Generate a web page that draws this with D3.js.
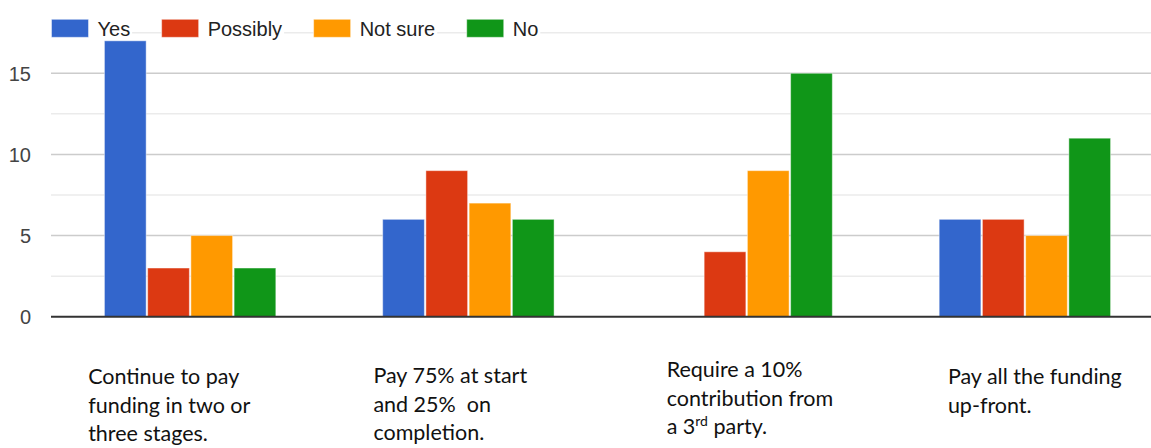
<!DOCTYPE html>
<html>
<head>
<meta charset="utf-8">
<script src="https://cdn.jsdelivr.net/npm/d3@7"></script>
<style>
  html, body { margin: 0; padding: 0; background: #fff; }
  svg { display: block; }
  .cat text { white-space: pre; }
</style>
</head>
<body>
<svg id="chart" width="1151" height="448"></svg>
<script>
// ---- data ----
const categories = [
  "Continue to pay funding in two or three stages.",
  "Pay 75% at start and 25%  on completion.",
  "Require a 10% contribution from a 3rd party.",
  "Pay all the funding up-front."
];
const seriesNames = ["Yes", "Possibly", "Not sure", "No"];
const yesValues      = [17, 6, 0, 6];
const possiblyValues = [3, 9, 4, 6];
const notSureValues  = [5, 7, 9, 5];
const noValues       = [3, 6, 15, 11];
const majorTicks = [0, 5, 10, 15];
const minorTicks = [2.5, 7.5, 12.5, 17.5];
// category label text broken into lines (as in the reference text boxes)
const categoryLines = [
  ["Continue to pay", "funding in two or", "three stages."],
  ["Pay 75% at start", "and 25%  on", "completion."],
  ["Require a 10%", "contribution from", "a 3|rd| party."],
  ["Pay all the funding", "up-front."]
];

// ---- layout (not data) ----
const colors = ["#3366cc", "#dc3912", "#ff9900", "#109618"];
const labelLayout = [ {dx: -102, y: 384}, {dx: -95, y: 383}, {dx: -80, y: 377}, {dx: -77, y: 384} ];

const svg = d3.select("#chart");
const seriesValues = [yesValues, possiblyValues, notSureValues, noValues];

const x0 = d3.scaleBand().domain(categories).range([51, 1164]).paddingInner(0.384).paddingOuter(0.192);
const x1 = d3.scaleBand().domain(seriesNames).range([0, x0.bandwidth()]).paddingInner(0.035);
const y = d3.scaleLinear().domain([0, 17.5]).range([316.7, 32.7]);

// gridlines
svg.append("g").selectAll("line").data(minorTicks).join("line")
  .attr("x1", 51).attr("x2", 1164)
  .attr("y1", d => y(d)).attr("y2", d => y(d))
  .attr("stroke", "#ebebeb").attr("stroke-width", 1.5);
svg.append("g").selectAll("line").data(majorTicks.filter(d => d > 0)).join("line")
  .attr("x1", 51).attr("x2", 1164)
  .attr("y1", d => y(d)).attr("y2", d => y(d))
  .attr("stroke", "#cccccc").attr("stroke-width", 1.5);

// y axis labels via d3 axis
const yAxis = d3.axisLeft(y).tickValues(majorTicks).tickSize(0).tickPadding(0).tickFormat(d3.format("d"));
const ya = svg.append("g").attr("transform", "translate(31,0)").call(yAxis);
ya.select(".domain").remove();
ya.selectAll("text")
  .attr("font-family", "Liberation Sans, Arial, sans-serif")
  .attr("font-size", 20).attr("fill", "#444").attr("dy", "0.36em");

// bars
const groups = svg.append("g").selectAll("g").data(categories).join("g")
  .attr("transform", d => `translate(${x0(d)},0)`);
groups.selectAll("rect")
  .data((c, ci) => seriesNames.map((s, si) => ({s, si, v: seriesValues[si][ci]})))
  .join("rect")
  .filter(d => d.v > 0)
  .attr("x", d => x1(d.s))
  .attr("width", x1.bandwidth())
  .attr("y", d => y(d.v))
  .attr("height", d => y(0) - y(d.v))
  .attr("fill", d => colors[d.si])
  .attr("stroke", "#ffffff").attr("stroke-opacity", 0.45).attr("stroke-width", 1);

// baseline
svg.append("line").attr("x1", 51).attr("x2", 1164)
  .attr("y1", y(0)).attr("y2", y(0))
  .attr("stroke", "#333333").attr("stroke-width", 2);

// legend
const legend = svg.append("g");
let lx = 51.5;
seriesNames.forEach((name, i) => {
  const g = legend.append("g");
  const bg = g.append("rect").attr("fill", "#fff");
  g.append("rect").attr("x", lx).attr("y", 19.3).attr("width", 37).attr("height", 18)
    .attr("fill", colors[i]).attr("stroke", "#fff").attr("stroke-opacity", 0.45);
  const t = g.append("text").attr("x", lx + 46).attr("y", 36)
    .attr("font-family", "Liberation Sans, Arial, sans-serif").attr("font-size", 20)
    .attr("fill", "#222").text(name);
  const w = t.node().getComputedTextLength();
  bg.attr("x", lx).attr("y", 19).attr("width", 46 + w + 2).attr("height", 19);
  lx += 46 + w + 31.5;
});

// category labels
const catG = svg.append("g").attr("class", "cat")
  .attr("font-family", "Lato, Carlito, Calibri, sans-serif")
  .attr("font-size", 21.5).attr("fill", "#111");
categories.forEach((c, i) => {
  const lay = labelLayout[i];
  const cx = x0(c) + x0.bandwidth() / 2 + lay.dx;
  const t = catG.append("text").attr("x", cx).attr("y", lay.y);
  categoryLines[i].forEach((line, li) => {
    const parts = line.split("|");
    parts.forEach((p, pi) => {
      const ts = t.append("tspan").text(p);
      if (pi === 0) ts.attr("x", cx).attr("dy", li === 0 ? 0 : 28.5);
      if (pi === 1) ts.attr("font-size", 14).attr("dy", -8);
      if (pi === 2 && parts.length === 3) ts.attr("dy", 8);
    });
  });
});
</script>
</body>
</html>
